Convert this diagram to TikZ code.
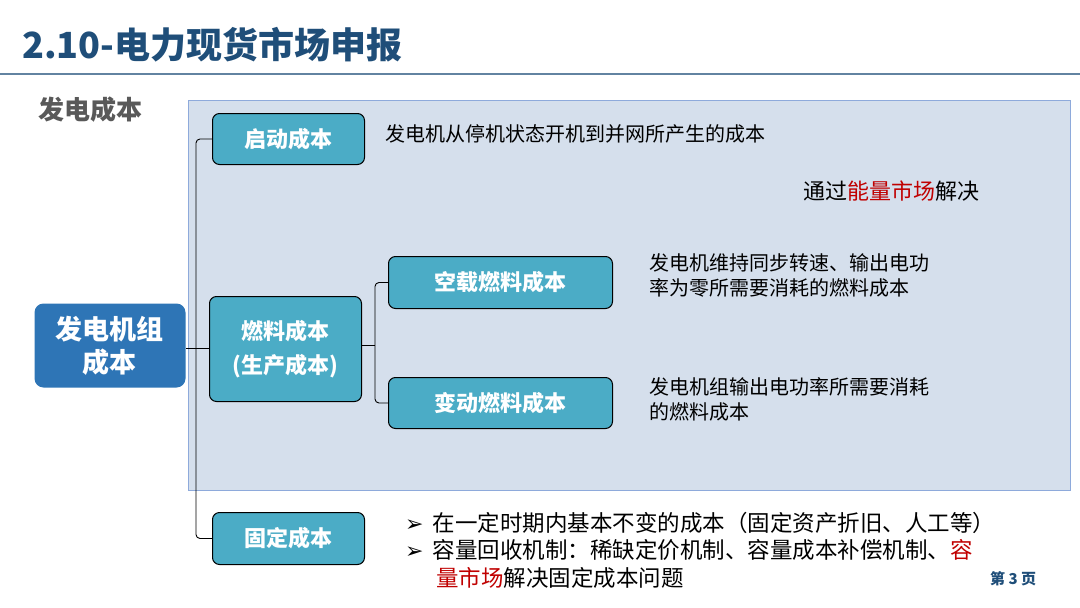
\documentclass[tikz,border=0pt]{standalone}
\usepackage{fontspec}
\setmainfont{Noto Sans CJK SC}
\newfontfamily\symf{DejaVu Sans}
\begin{document}
\begin{tikzpicture}[x=1pt,y=-1pt,
  box/.style={draw=black,line width=1pt,fill=cyanb,rounded corners=7pt,text=white,font=\fontsize{22}{26}\selectfont\bfseries,align=center,anchor=north west},
  txt/.style={anchor=west,font=\fontsize{20}{25}\selectfont,align=left,inner sep=0pt},
  conn/.style={draw=black,line width=0.9pt,rounded corners=4pt}]
\definecolor{cyanb}{HTML}{4BACC6}
\definecolor{darkb}{HTML}{2E75B6}
\definecolor{titleb}{HTML}{1F4E79}
\definecolor{panel}{HTML}{D5DFEC}
\definecolor{panelb}{HTML}{8EAADB}
\definecolor{redt}{HTML}{C00000}
\useasboundingbox (0,0) rectangle (1080,608);
\fill[white] (0,0) rectangle (1080,608);
\node[anchor=west,inner sep=0pt,text=titleb,font=\fontsize{36}{40}\selectfont\bfseries] (title) at (22,45) {2.10-电力现货市场申报};
\draw[line width=1.5pt,color=titleb!70] (0,74) -- (1080,74);
\node[anchor=west,inner sep=0pt,text=black!65,font=\fontsize{26}{30}\selectfont\bfseries] (sub) at (38,110) {发电成本};
\draw[fill=panel,draw=panelb,line width=0.8pt] (188,100) rectangle (1070,490);
\node[box,minimum width=152pt,minimum height=51pt] (qd) at (212,113) {启动成本};
\node[box,minimum width=152pt,minimum height=105pt] (rl) at (209,296) {燃料成本\\[8pt](生产成本)};
\node[box,minimum width=224pt,minimum height=52pt] (kz) at (388,256) {空载燃料成本};
\node[box,minimum width=224pt,minimum height=51pt] (bd) at (388,377) {变动燃料成本};
\node[box,minimum width=152pt,minimum height=52pt] (gd) at (212,512) {固定成本};
\node[box,draw=none,fill=darkb,rounded corners=9pt,minimum width=151pt,minimum height=84pt,font=\fontsize{27}{33}\selectfont\bfseries] (root) at (34,303) {发电机组\\成本};
\coordinate (j1) at (196,348);
\coordinate (j2) at (375,345);
\draw[conn] (root.east|-j1) -- (j1);
\draw[conn] (qd.west) -| (j1) |- (gd.west);
\draw[conn] (j1) -- (rl.west|-j1);
\draw[conn] (rl.east|-j2) -- (j2);
\draw[conn] (kz.west) -| (j2) |- (bd.west);
\node[txt] (t1) at (385,134) {发电机从停机状态开机到并网所产生的成本};
\node[txt,font=\fontsize{22}{26}\selectfont] (t2) at (803,191) {通过\textcolor{redt}{能量市场}解决};
\node[txt,anchor=north west] (t3) at (649,253) {发电机维持同步转速、输出电功\\率为零所需要消耗的燃料成本};
\node[txt,anchor=north west] (t4) at (649,377) {发电机组输出电功率所需要消耗\\的燃料成本};
\node[txt,font=\fontsize{22.5}{26}\selectfont] (b1) at (405,523) {{\symf\fontsize{22}{22}\selectfont ➢}\hspace{9pt}在一定时期内基本不变的成本（固定资产折旧、人工等）};
\node[txt,font=\fontsize{22.5}{26}\selectfont] (b2) at (405,550) {{\symf\fontsize{22}{22}\selectfont ➢}\hspace{9pt}容量回收机制：稀缺定价机制、容量成本补偿机制、\textcolor{redt}{容}};
\node[txt,font=\fontsize{22.5}{26}\selectfont] (b3) at (436,578) {\textcolor{redt}{量市场}解决固定成本问题};
\node[anchor=west,inner sep=0pt,font=\fontsize{15}{18}\selectfont\bfseries,text=titleb] (pg) at (990,579) {第 3 页};
\end{tikzpicture}
\end{document}
